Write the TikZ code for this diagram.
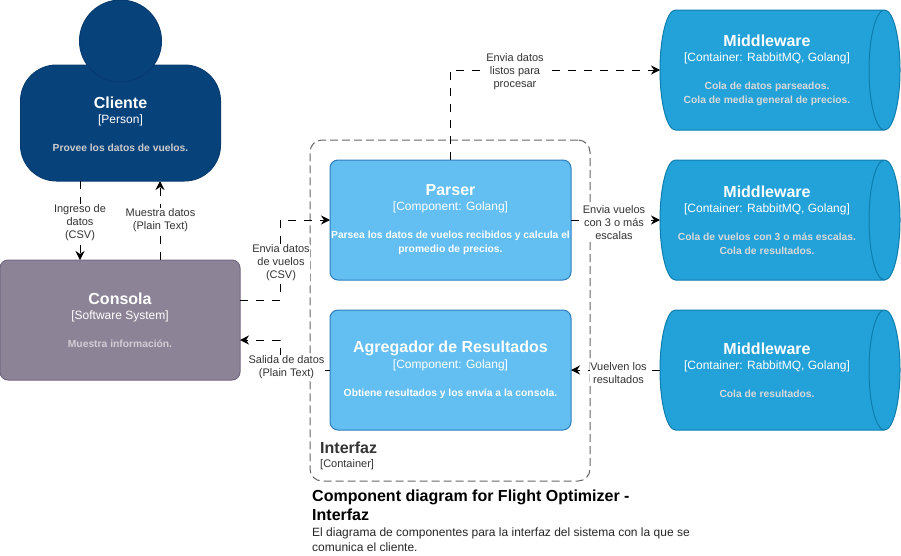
\documentclass[tikz,border=0pt]{standalone}
\usepackage{fontspec}
\setmainfont{Liberation Sans}
\usetikzlibrary{arrows.meta,shapes.geometric}
\definecolor{personfill}{HTML}{08427B}
\definecolor{personline}{HTML}{073B6F}
\definecolor{systemfill}{HTML}{8C8496}
\definecolor{systemline}{HTML}{736782}
\definecolor{compfill}{HTML}{63BEF2}
\definecolor{compline}{HTML}{2E7DBF}
\definecolor{queuefill}{HTML}{23A2D9}
\definecolor{queueline}{HTML}{0E7DAD}
\newcommand{\boxtitle}[1]{{\fontsize{16}{19}\selectfont\bfseries #1}}
\newcommand{\boxkind}[1]{{\fontsize{12}{15}\selectfont #1}}
\newcommand{\boxdesc}[1]{{\fontsize{10.3}{14}\selectfont\bfseries #1}}
\tikzset{
  comp/.style={rectangle,draw=compline,fill=compfill,line width=1pt,rounded corners=8pt,text=white,align=center,
    minimum width=241pt,minimum height=120pt,inner sep=0pt,outer sep=0pt,anchor=north west},
  queue/.style={cylinder,shape aspect=0.31,draw=queueline,fill=queuefill,line width=1pt,
    minimum width=120pt,minimum height=240pt,inner sep=0pt,outer sep=0pt,anchor=west},
  queuetxt/.style={text=white,align=center,inner sep=0pt},
  rel/.style={draw=black,line width=1pt,dash pattern=on 8pt off 8pt,-{Stealth[length=9pt,width=9pt]}},
  rellabel/.style={fill=white,inner sep=0.5pt,align=center,text=black!80,font=\fontsize{11}{13}\selectfont},
}
\begin{document}
\begin{tikzpicture}[x=1pt,y=-1pt]
    \useasboundingbox (0,0) rectangle (901,555);
    % outer container
    \node (interfaz) [rectangle,draw=black!60,line width=1pt,dash pattern=on 8pt off 4pt,rounded corners=12pt,
        minimum width=280pt,minimum height=341pt,inner sep=0pt,outer sep=0pt,anchor=north west] at (310,140) {};
    \node (interfaztxt) [anchor=north west,inner sep=0pt,align=left,text=black!80] at (320,442)
        {{\fontsize{16}{18}\selectfont\bfseries Interfaz}\\[2pt]{\fontsize{11}{13}\selectfont [Container]}};
    % person
    \node (cliente) [rectangle,draw=personline,fill=personfill,line width=1pt,rounded corners=36pt,
        minimum width=200pt,minimum height=116pt,inner sep=0pt,outer sep=0pt] at (120.5,123) {};
    \node (cabeza) [circle,draw=personline,fill=personfill,line width=1pt,minimum size=82pt,inner sep=0pt,outer sep=0pt] at (120.5,41) {};
    \node (clientetxt) [queuetxt] at (120.5,124.5)
        {\boxtitle{Cliente}\\[3pt]\boxkind{[Person]}\\[16pt]\textcolor{white!80!black}{\boxdesc{Provee los datos de vuelos.}}};
    % software system
    \node (consola) [rectangle,draw=systemline,fill=systemfill,line width=1pt,rounded corners=8pt,text=white,align=center,
        minimum width=240pt,minimum height=120pt,inner sep=0pt,outer sep=0pt,anchor=north west] at (0,260)
        {\boxtitle{Consola}\\[3pt]\boxkind{[Software System]}\\[16pt]\textcolor{white!60!systemfill}{\boxdesc{Muestra información.}}};
    % components
    \node (parser) [comp] at (330,160)
        {\boxtitle{Parser}\\[3pt]\boxkind{[Component: Golang]}\\[16pt]\boxdesc{Parsea los datos de vuelos recibidos y calcula el}\\[2pt]\boxdesc{promedio de precios.}};
    \node (agregador) [comp] at (330,310)
        {\boxtitle{Agregador de Resultados}\\[3pt]\boxkind{[Component: Golang]}\\[16pt]\boxdesc{Obtiene resultados y los envía a la consola.}};
    % queues
    \node (mwdatos) [queue] at (660,70) {\rule{0pt}{100pt}};
    \node (mwvuelos) [queue] at (660,220) {\rule{0pt}{100pt}};
    \node (mwres) [queue] at (660,370) {\rule{0pt}{100pt}};
    \node (txtdatos) [queuetxt] at (767,70.5)
        {\boxtitle{Middleware}\\[3pt]\boxkind{[Container: RabbitMQ, Golang]}\\[16pt]\textcolor{white!85!black}{\boxdesc{Cola de datos parseados.}}\\[2pt]\textcolor{white!85!black}{\boxdesc{Cola de media general de precios.}}};
    \node (txtvuelos) [queuetxt] at (767,220.5)
        {\boxtitle{Middleware}\\[3pt]\boxkind{[Container: RabbitMQ, Golang]}\\[16pt]\textcolor{white!85!black}{\boxdesc{Cola de vuelos con 3 o más escalas.}}\\[2pt]\textcolor{white!85!black}{\boxdesc{Cola de resultados.}}};
    \node (txtres) [queuetxt] at (767,370)
        {\boxtitle{Middleware}\\[3pt]\boxkind{[Container: RabbitMQ, Golang]}\\[16pt]\textcolor{white!85!black}{\boxdesc{Cola de resultados.}}};
    % free ends on the box borders
    \coordinate (clienteizq) at (80,181);
    \coordinate (clienteder) at (160,181);
    \coordinate (consolaizq) at (80,260);
    \coordinate (consolader) at (160,260);
    \coordinate (consolasal) at (240,300);
    \coordinate (consolaent) at (240,340);
    \coordinate (parserizq) at (330,220);
    \coordinate (parserder) at (571,220);
    \coordinate (parsersup) at (450,160);
    \coordinate (agregizq) at (330,370);
    \coordinate (agregder) at (571,370);
    % relations
    \draw [rel] (clienteizq) -- (consolaizq);
    \draw [rel] (consolader) -- (clienteder);
    \draw [rel] (consolasal) -- (280,300) -- (280,220) -- (parserizq);
    \draw [rel] (agregizq) -- (280,370) -- (280,340) -- (consolaent);
    \draw [rel] (parsersup) -- (450,70) -- (mwdatos.west);
    \draw [rel] (parserder) -- (mwvuelos.west);
    \draw [rel] (mwres.west) -- (agregder);
    % labels
    \node (lblingreso) [rellabel] at (80,223) {Ingreso de\\datos\\(CSV)};
    \node (lblmuestra) [rellabel] at (160.5,220) {Muestra datos\\(Plain Text)};
    \node (lblenvia) [rellabel] at (281,263) {Envia datos\\de vuelos\\(CSV)};
    \node (lblsalida) [rellabel] at (286.5,367.5) {Salida de datos\\(Plain Text)};
    \node (lbllistos) [rellabel] at (515,72) {Envia datos\\listos para\\procesar};
    \node (lblescalas) [rellabel] at (614,223) {Envia vuelos\\con 3 o más\\escalas};
    \node (lblvuelven) [rellabel] at (618.5,373.5) {Vuelven los\\resultados};
    % caption
    \node (titulo) [anchor=north west,inner sep=0pt,align=left,text=black] at (312,490)
        {{\fontsize{16}{19}\selectfont\bfseries Component diagram for Flight Optimizer -}\\[3pt]{\fontsize{16}{19}\selectfont\bfseries Interfaz}};
    \node (bajada) [anchor=north west,inner sep=0pt,align=left,text=black!85] at (312,528)
        {{\fontsize{12}{15}\selectfont El diagrama de componentes para la interfaz del sistema con la que se}\\[3pt]{\fontsize{12}{15}\selectfont comunica el cliente.}};
\end{tikzpicture}
\end{document}
